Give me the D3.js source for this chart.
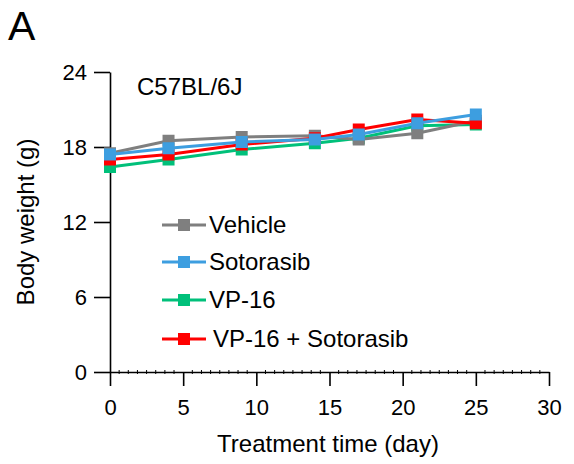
<!DOCTYPE html>
<html>
<head>
<meta charset="utf-8">
<script src="https://cdn.jsdelivr.net/npm/d3@7"></script>
<style>
  body { margin: 0; background: #fff; }
  svg { font-family: "Liberation Sans", Arial, sans-serif; }
</style>
</head>
<body>
<svg width="574" height="464"></svg>
<script>
// Data
const days = [0, 4, 9, 14, 17, 21, 25];
const groups = ["Vehicle", "Sotorasib", "VP-16", "VP-16 + Sotorasib"];
const vehicle = [17.5, 18.5, 18.8, 18.9, 18.6, 19.1, 20.1];
const sotorasib = [17.4, 17.9, 18.4, 18.6, 19.0, 19.9, 20.6];
const vp16 = [16.4, 17.0, 17.8, 18.3, 18.7, 19.7, 19.8];
const combo = [17.0, 17.4, 18.2, 18.7, 19.4, 20.2, 19.9];
const yTicks = [0, 6, 12, 18, 24];
const xTicks = [0, 5, 10, 15, 20, 25, 30];

const colors = {
  "Vehicle": "#7f7f7f",
  "Sotorasib": "#3d9ee0",
  "VP-16": "#00c07a",
  "VP-16 + Sotorasib": "#ff0000"
};
const values = {
  "Vehicle": vehicle,
  "Sotorasib": sotorasib,
  "VP-16": vp16,
  "VP-16 + Sotorasib": combo
};

const svg = d3.select("svg");

const x = d3.scaleLinear().domain([0, 30]).range([110, 549]);
const y = d3.scaleLinear().domain([0, 24]).range([372, 72]);

// Y axis
const yAxis = svg.append("g")
    .attr("transform", "translate(110,0)")
    .call(d3.axisLeft(y).tickValues(yTicks).tickSize(16).tickSizeOuter(0).tickPadding(7));

// X axis minor ticks
const minor = d3.range(0, 30.001, 0.625).filter(d => Math.abs(d % 5) > 1e-6);
svg.append("g")
  .selectAll("line")
  .data(minor)
  .join("line")
    .attr("x1", d => x(d)).attr("x2", d => x(d))
    .attr("y1", 370).attr("y2", 374)
    .attr("stroke", "#000").attr("stroke-width", 1);

// X axis
const xAxis = svg.append("g")
    .attr("transform", "translate(0,372)")
    .call(d3.axisBottom(x).tickValues(xTicks).tickSize(14).tickSizeOuter(0).tickPadding(13));

[yAxis, xAxis].forEach(a => {
  a.selectAll("path, line").attr("stroke", "#000").attr("stroke-width", 1.6);
  a.selectAll("text").attr("font-size", 22).attr("fill", "#000")
    .style("font-family", "'Liberation Sans', Arial, sans-serif");
});

// Series (drawing order so blue ends on top)
const drawOrder = ["VP-16", "Vehicle", "VP-16 + Sotorasib", "Sotorasib"];
const line = d3.line().x(d => x(d[0])).y(d => y(d[1]));
const ms = 12;

drawOrder.forEach(g => {
  const pts = days.map((d, i) => [d, values[g][i]]);
  svg.append("path")
      .datum(pts)
      .attr("d", line)
      .attr("fill", "none")
      .attr("stroke", colors[g])
      .attr("stroke-width", 3);
  svg.append("g")
    .selectAll("rect")
    .data(pts)
    .join("rect")
      .attr("x", d => x(d[0]) - ms / 2)
      .attr("y", d => y(d[1]) - ms / 2)
      .attr("width", ms)
      .attr("height", ms)
      .attr("fill", colors[g]);
});

// Legend
const legendY = [225, 262, 300, 339];
const legend = svg.append("g");
groups.forEach((g, i) => {
  const row = legend.append("g").attr("transform", `translate(0,${legendY[i]})`);
  row.append("line")
      .attr("x1", 162).attr("x2", 206)
      .attr("stroke", colors[g]).attr("stroke-width", 3);
  row.append("rect")
      .attr("x", 184 - 6).attr("y", -6)
      .attr("width", 12).attr("height", 12)
      .attr("fill", colors[g]);
  row.append("text")
      .attr("x", i === 3 ? 213 : 209)
      .attr("y", 8)
      .attr("font-size", 24)
      .text(g);
});

// Labels
svg.append("text")
    .attr("x", 137).attr("y", 95)
    .attr("font-size", 24)
    .text("C57BL/6J");

svg.append("text")
    .attr("x", 8).attr("y", 40)
    .attr("font-size", 41)
    .text("A");

svg.append("text")
    .attr("x", 328).attr("y", 452)
    .attr("text-anchor", "middle")
    .attr("font-size", 24)
    .text("Treatment time (day)");

svg.append("text")
    .attr("transform", "translate(34,222) rotate(-90)")
    .attr("text-anchor", "middle")
    .attr("font-size", 24)
    .text("Body weight (g)");
</script>
</body>
</html>
